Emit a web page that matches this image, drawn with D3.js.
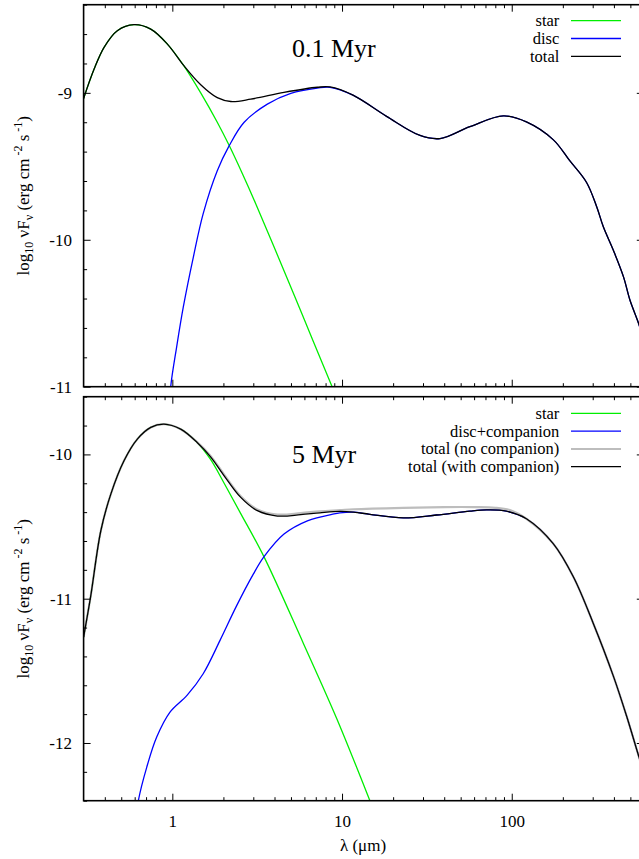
<!DOCTYPE html>
<html><head><meta charset="utf-8">
<script src="https://cdn.jsdelivr.net/npm/d3@7"></script>
<style>
body{margin:0;background:#fff}
svg{display:block}
text{font-family:"Liberation Serif","Times New Roman",serif;fill:#000}
</style>
</head><body>
<svg id="c" width="639" height="859"></svg>
<script>
// ---------- data (λ in µm, log10 νFν) ----------
const xDomain=[0.3,600];
const xMajorTicks=[1,10,100];
const xMinorTicks=[0.4,0.5,0.6,0.7,0.8,0.9,2,3,4,5,6,7,8,9,20,30,40,50,60,70,80,90,200,300,400,500];

// Panel 1: 0.1 Myr
const topTitle="0.1 Myr";
const topYDomain=[-11,-8.4];
const topYMajor=[-11,-10,-9];
const topYMinor=[-10.8,-10.6,-10.4,-10.2,-9.8,-9.6,-9.4,-9.2,-8.8,-8.6,-8.4];
const topStarLam=[0.30,0.346,0.396,0.474,0.594,0.746,0.935,1.17,1.47,1.84,2.16,2.58,3.10,3.96,5.81,8.81,9.6];
const topStarVal=[-9.038,-8.838,-8.69,-8.577,-8.536,-8.566,-8.668,-8.816,-9.0,-9.2,-9.357,-9.547,-9.754,-10.044,-10.506,-11.01,-11.115];
const topDiscLam=[0.94,0.978,1.06,1.16,1.33,1.52,1.84,2.16,2.65,3.63,4.99,7.15,8.5,11.6,18.3,28.8,37.8,56.7,89.3,122,176,219,276,317,346,397,456,497,563,600];
const topDiscVal=[-11.3,-11.0,-10.73,-10.459,-10.118,-9.822,-9.53,-9.361,-9.20,-9.077,-9.004,-8.968,-8.962,-9.016,-9.16,-9.29,-9.311,-9.23,-9.157,-9.198,-9.32,-9.46,-9.61,-9.777,-9.91,-10.072,-10.254,-10.41,-10.58,-10.70];
const topTotalLam=[0.30,0.346,0.396,0.474,0.594,0.746,0.935,1.17,1.47,1.84,2.21,2.90,4.55,7.15,8.5,11.6,18.3,28.8,37.8,56.7,89.3,122,176,219,276,317,346,397,456,497,563,600];
const topTotalVal=[-9.038,-8.838,-8.69,-8.577,-8.536,-8.566,-8.668,-8.815,-8.945,-9.033,-9.059,-9.043,-8.997,-8.962,-8.96,-9.016,-9.16,-9.29,-9.311,-9.23,-9.157,-9.198,-9.32,-9.46,-9.61,-9.777,-9.91,-10.072,-10.254,-10.41,-10.58,-10.70];
const topLegend=["star","disc","total"];

// Panel 2: 5 Myr
const botTitle="5 Myr";
const botYDomain=[-12.4,-9.6];
const botYMajor=[-12,-11,-10];
const botYMinor=[-12.4,-12.2,-11.8,-11.6,-11.4,-11.2,-10.8,-10.6,-10.4,-10.2,-9.8,-9.6];
const botStarLam=[0.30,0.330,0.379,0.434,0.519,0.622,0.746,0.893,1.12,1.40,1.68,2.02,2.53,3.47,5.92,9.30,14.6,16];
const botStarVal=[-11.266,-10.986,-10.529,-10.275,-10.044,-9.894,-9.813,-9.79,-9.825,-9.917,-10.035,-10.2,-10.41,-10.71,-11.31,-11.83,-12.40,-12.52];
const botDiscLam=[0.60,0.631,0.707,0.809,0.969,1.22,1.52,1.91,2.39,3.00,3.47,4.55,6.25,8.97,9.7,11.7,14.6,23,36,56.7,71,93,122,176,231,302,398,477,563,600];
const botDiscVal=[-12.6,-12.398,-12.167,-11.959,-11.786,-11.67,-11.52,-11.289,-11.05,-10.83,-10.709,-10.552,-10.46,-10.412,-10.405,-10.40,-10.415,-10.44,-10.42,-10.393,-10.385,-10.393,-10.446,-10.62,-10.85,-11.17,-11.54,-11.82,-12.10,-12.2];
const botNoCompLam=[0.30,0.330,0.379,0.434,0.519,0.622,0.746,0.893,1.12,1.40,1.68,2.02,2.53,3.17,4.16,5.71,7.4,9.7,11.7,23,40,60,80,100,122,176,231,302,398,477,563,600];
const botNoCompVal=[-11.266,-10.986,-10.529,-10.275,-10.044,-9.894,-9.813,-9.79,-9.825,-9.915,-10.01,-10.14,-10.29,-10.382,-10.417,-10.407,-10.394,-10.386,-10.38,-10.37,-10.365,-10.365,-10.37,-10.39,-10.446,-10.62,-10.85,-11.17,-11.54,-11.82,-12.10,-12.2];
const botTotalLam=[0.30,0.330,0.379,0.434,0.519,0.622,0.746,0.893,1.12,1.40,1.68,2.02,2.53,3.17,4.16,5.71,7.4,9.7,11.7,14.6,23,36,56.7,71,93,122,176,231,302,398,477,563,600];
const botTotalVal=[-11.266,-10.986,-10.529,-10.275,-10.044,-9.894,-9.813,-9.79,-9.825,-9.917,-10.017,-10.148,-10.298,-10.39,-10.427,-10.418,-10.405,-10.395,-10.40,-10.415,-10.44,-10.42,-10.393,-10.385,-10.393,-10.446,-10.62,-10.85,-11.17,-11.54,-11.82,-12.10,-12.2];
const botLegend=["star","disc+companion","total (no companion)","total (with companion)"];

const colStar="#00ee00", colDisc="#0000ff", colTotal="#000000", colNoComp="#bdbdbd";

// ---------- layout ----------
const svg=d3.select("#c");
const L=83.6, R=643.8;
const x=d3.scaleLog().domain(xDomain).range([L,R]);
const panels=[
 {id:"p1",title:topTitle,yDomain:topYDomain,yMajor:topYMajor,yMinor:topYMinor,top:4.7,bottom:386.7,
  titleY:56.7,legendY:20.7,legend:topLegend,legendCols:[colStar,colDisc,colTotal],legendW:[1.3,1.3,1.3],
  series:[
   {lam:topStarLam,val:topStarVal,col:colStar,w:1.3},
   {lam:topDiscLam,val:topDiscVal,col:colDisc,w:1.3},
   {lam:topTotalLam,val:topTotalVal,col:colTotal,w:1.3}],xLabels:false},
 {id:"p2",title:botTitle,yDomain:botYDomain,yMajor:botYMajor,yMinor:botYMinor,top:396.7,bottom:800.7,
  titleY:462.7,legendY:413.3,legend:botLegend,legendCols:[colStar,colDisc,colNoComp,colTotal],legendW:[1.3,1.3,2,1.3],
  series:[
   {lam:botStarLam,val:botStarVal,col:colStar,w:1.3},
   {lam:botDiscLam,val:botDiscVal,col:colDisc,w:1.3},
   {lam:botNoCompLam,val:botNoCompVal,col:colNoComp,w:2.2},
   {lam:botTotalLam,val:botTotalVal,col:colTotal,w:1.3}],xLabels:true}
];

panels.forEach(p=>{
  const y=d3.scaleLinear().domain(p.yDomain).range([p.bottom,p.top]);
  const g=svg.append("g");
  g.append("clipPath").attr("id","clip"+p.id).append("rect")
    .attr("x",L).attr("y",p.top).attr("width",R-L).attr("height",p.bottom-p.top);

  // curves
  const line=d3.line().x(d=>x(d[0])).y(d=>y(d[1])).curve(d3.curveCatmullRom.alpha(0.5));
  const cg=g.append("g").attr("clip-path","url(#clip"+p.id+")");
  p.series.forEach(s=>{
    const pts=s.lam.map((l,i)=>[l,s.val[i]]);
    cg.append("path").attr("d",line(pts)).attr("fill","none")
      .attr("stroke",s.col).attr("stroke-width",s.w).attr("stroke-linejoin","round");
  });

  // axes (inward ticks on all sides)
  const styleAxis=sel=>{sel.select(".domain").remove();sel.selectAll("line").attr("stroke","#000").attr("stroke-width",1);};
  const fmt=d=>(d<0?"-":"")+Math.abs(d);
  g.append("g").attr("transform",`translate(${L},0)`)
    .call(d3.axisLeft(y).tickValues(p.yMajor).tickSize(-7).tickPadding(11.6).tickFormat(fmt))
    .call(styleAxis).call(s=>s.selectAll("text").style("font-size","17px").style("font-family","'Liberation Serif',serif"));
  g.append("g").attr("transform",`translate(${L},0)`)
    .call(d3.axisLeft(y).tickValues(p.yMinor).tickSize(-3.5).tickFormat("")).call(styleAxis);
  g.append("g").attr("transform",`translate(${R},0)`)
    .call(d3.axisRight(y).tickValues(p.yMajor).tickSize(-7).tickFormat("")).call(styleAxis);
  g.append("g").attr("transform",`translate(${R},0)`)
    .call(d3.axisRight(y).tickValues(p.yMinor).tickSize(-3.5).tickFormat("")).call(styleAxis);
  g.append("g").attr("transform",`translate(0,${p.top})`)
    .call(d3.axisTop(x).tickValues(xMajorTicks).tickSize(-7).tickFormat("")).call(styleAxis);
  g.append("g").attr("transform",`translate(0,${p.top})`)
    .call(d3.axisTop(x).tickValues(xMinorTicks).tickSize(-3.5).tickFormat("")).call(styleAxis);
  g.append("g").attr("transform",`translate(0,${p.bottom})`)
    .call(d3.axisBottom(x).tickValues(xMajorTicks).tickSize(-7).tickPadding(14).tickFormat(p.xLabels?d3.format("d"):""))
    .call(styleAxis).call(s=>s.selectAll("text").style("font-size","17px").style("font-family","'Liberation Serif',serif"));
  g.append("g").attr("transform",`translate(0,${p.bottom})`)
    .call(d3.axisBottom(x).tickValues(xMinorTicks).tickSize(-3.5).tickFormat("")).call(styleAxis);

  // frame
  g.append("rect").attr("x",L).attr("y",p.top).attr("width",R-L).attr("height",p.bottom-p.top)
    .attr("fill","none").attr("stroke","#000").attr("stroke-width",1.6);

  // title
  g.append("text").attr("x",292).attr("y",p.titleY).style("font-size","26px").text(p.title);

  // legend
  p.legend.forEach((t,i)=>{
    const ly=p.legendY+i*17.8;
    g.append("text").attr("x",559.3).attr("y",ly+5.5).attr("text-anchor","end").style("font-size","16.5px").text(t);
    g.append("line").attr("x1",571).attr("x2",621).attr("y1",ly).attr("y2",ly)
      .attr("stroke",p.legendCols[i]).attr("stroke-width",p.legendW[i]);
  });

  // y label
  const cy=(p.top+p.bottom)/2;
  const yl=g.append("text").attr("transform",`translate(29,${cy}) rotate(-90)`)
    .attr("text-anchor","middle").style("font-size","17px");
  yl.append("tspan").text("log");
  yl.append("tspan").attr("dy",4).style("font-size","12px").text("10");
  yl.append("tspan").attr("dy",-4).text(" νF");
  yl.append("tspan").attr("dy",4).style("font-size","12px").text("ν");
  yl.append("tspan").attr("dy",-4).text(" (erg cm");
  yl.append("tspan").attr("dy",-7).style("font-size","12px").text(" -2");
  yl.append("tspan").attr("dy",7).text(" s");
  yl.append("tspan").attr("dy",-7).style("font-size","12px").text(" -1");
  yl.append("tspan").attr("dy",7).text(")");
});

// x label
svg.append("text").attr("x",363).attr("y",851).attr("text-anchor","middle").style("font-size","17px").text("λ (μm)");
</script>
</body></html>
